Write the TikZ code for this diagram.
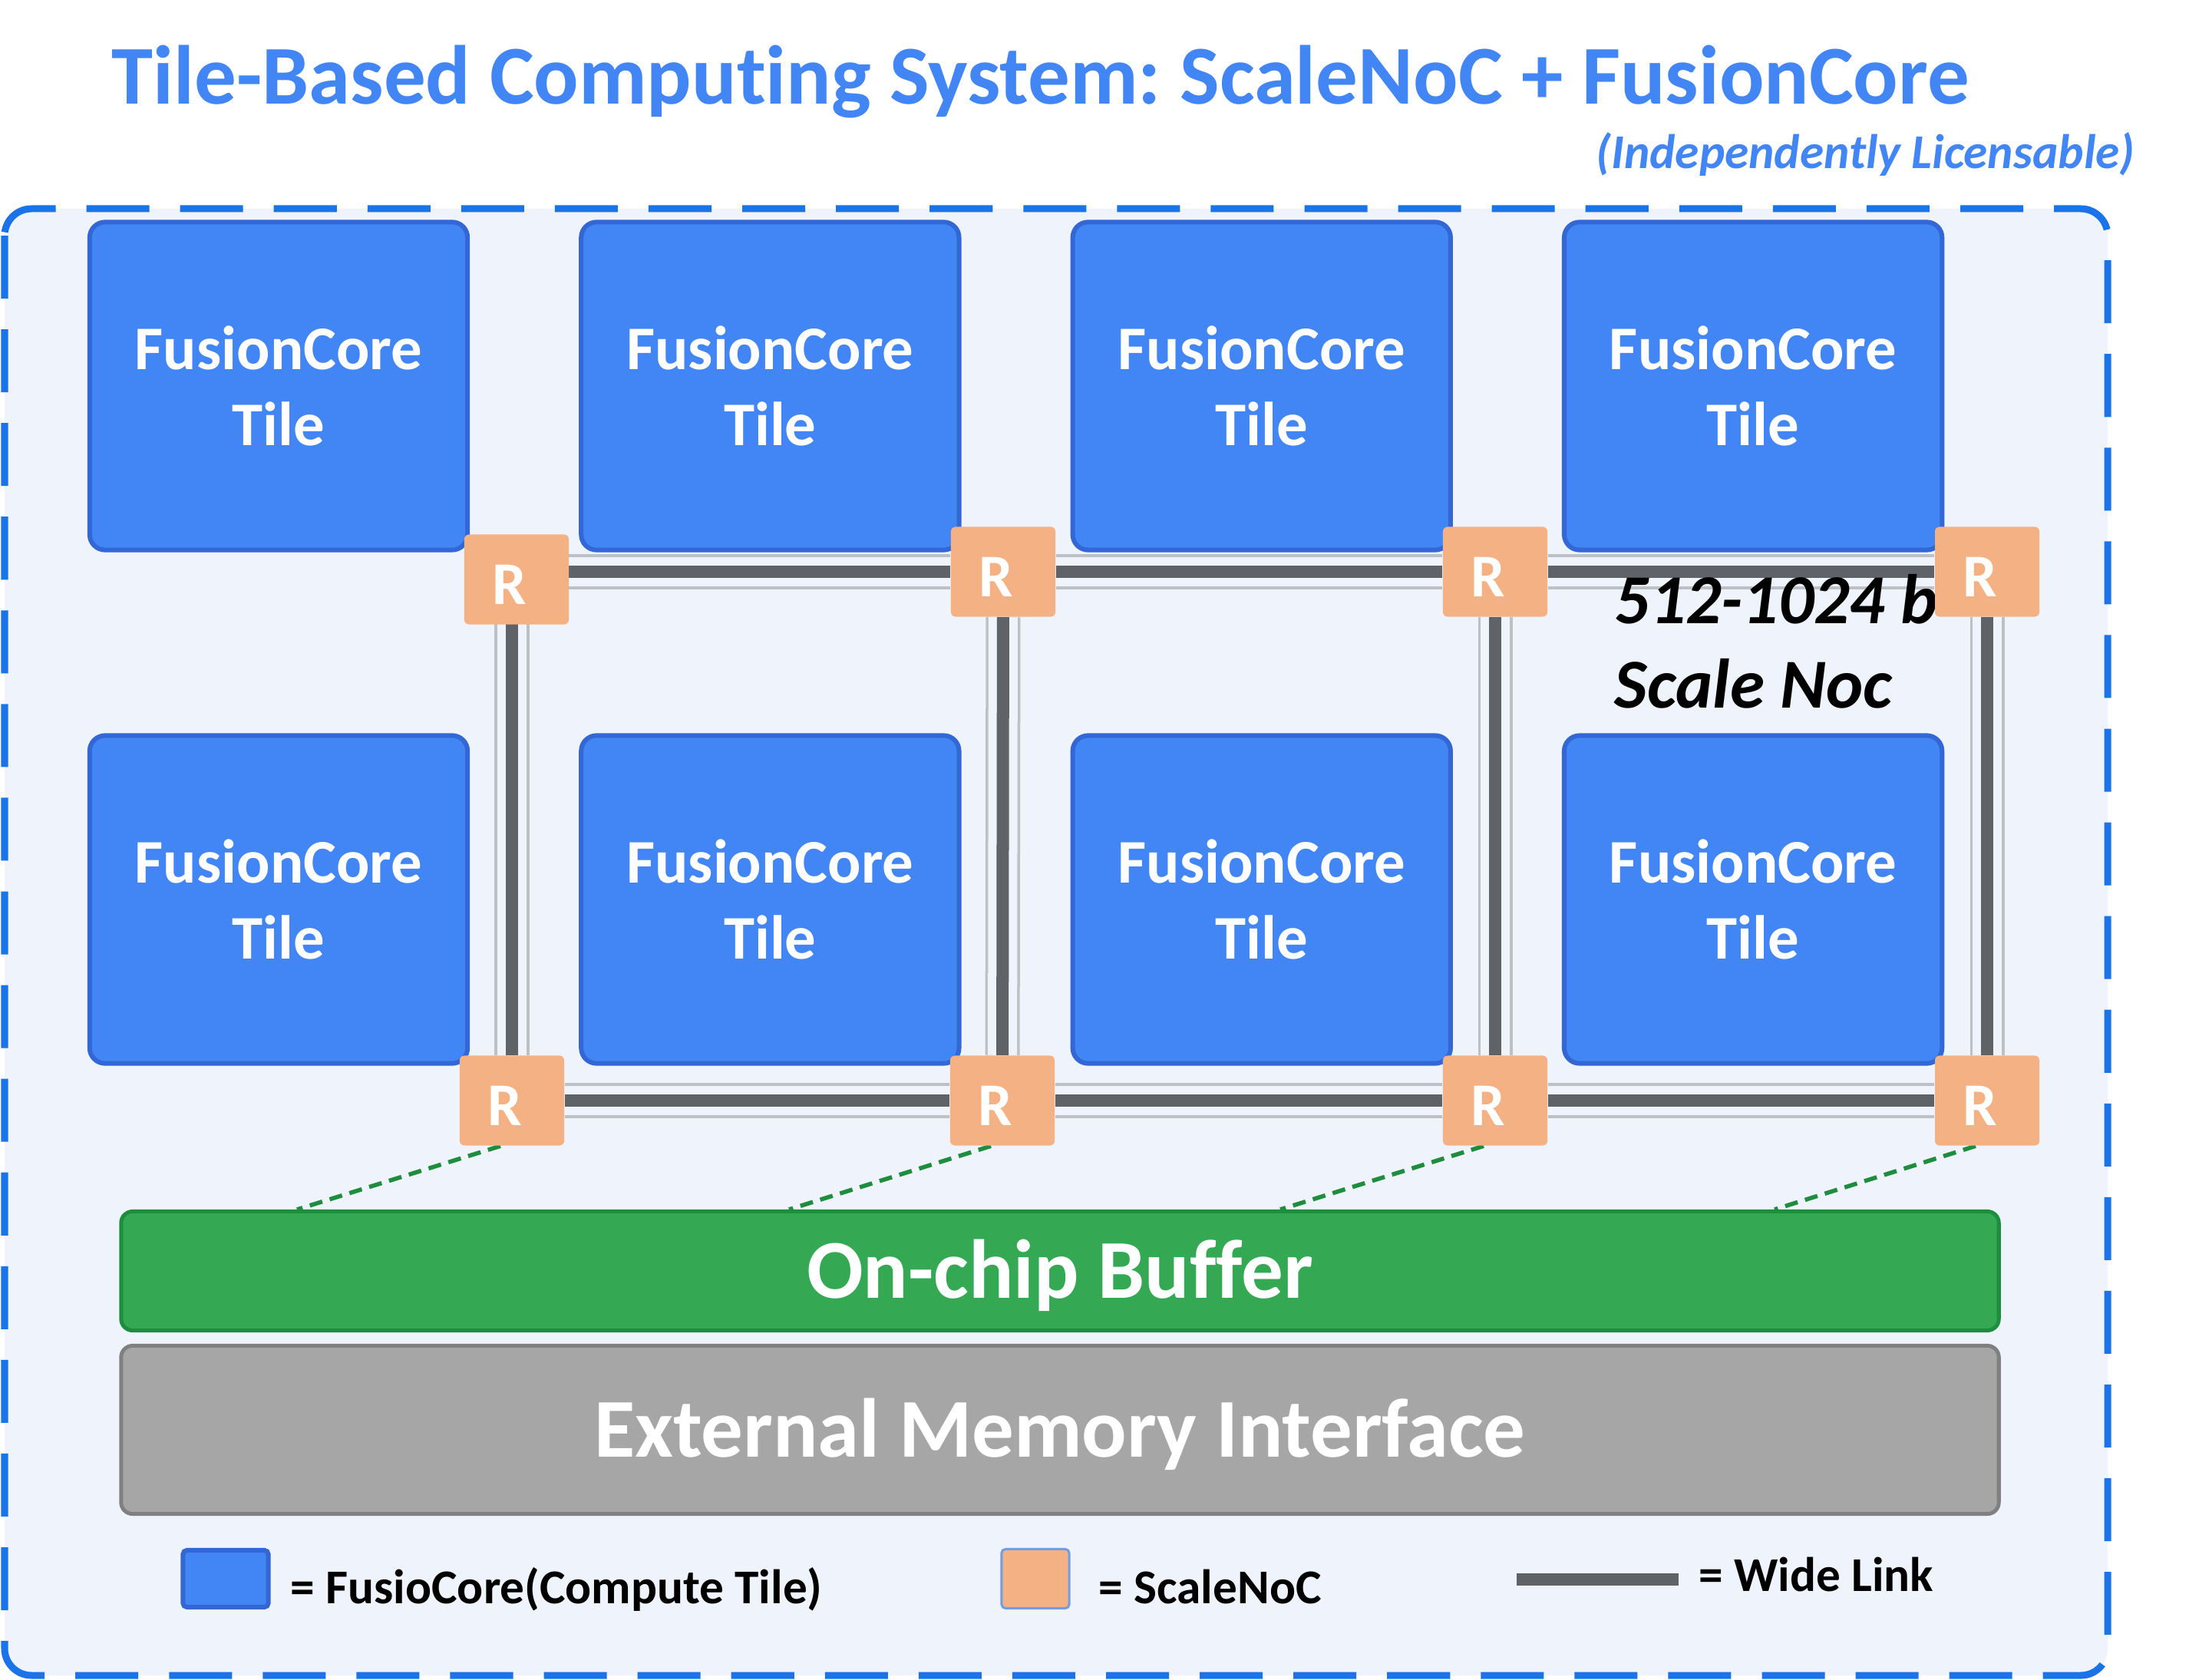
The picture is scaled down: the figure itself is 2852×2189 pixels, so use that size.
\documentclass[tikz,border=0pt]{standalone}
\usepackage{fontspec}
\setmainfont{Carlito}[Ligatures=NoCommon]
\usepackage{tikz}
\usetikzlibrary{positioning}
\usepackage{xcolor}
\definecolor{tileblue}{HTML}{4285F4}
\definecolor{tileedge}{HTML}{3367D6}
\definecolor{routerfill}{HTML}{F4B183}
\definecolor{linkdark}{HTML}{5F6368}
\definecolor{linklight}{HTML}{BDC1C6}
\definecolor{boxfill}{HTML}{EEF3FC}
\definecolor{boxedge}{HTML}{1A73E8}
\definecolor{bufgreen}{HTML}{34A853}
\definecolor{bufedge}{HTML}{1E8E3E}
\definecolor{memgray}{HTML}{A6A6A6}
\definecolor{memedge}{HTML}{808080}
\definecolor{legedge}{HTML}{6D9EEB}
\pgfdeclarelayer{frame}
\pgfdeclarelayer{links}
\pgfsetlayers{frame,links,main}
\frenchspacing

\begin{document}
\begin{tikzpicture}[
    x=0.01cm, y=-0.01cm,
    tile/.style={rectangle, rounded corners=0.2cm, draw=tileedge, line width=0.06cm, fill=tileblue, minimum width=4.92cm, minimum height=4.27cm, align=center, text=white, font=\bfseries\fontsize{23}{28}\selectfont},
    router/.style={rectangle, rounded corners=0.06cm, fill=routerfill, minimum width=1.36cm, minimum height=1.17cm, inner sep=0pt, text height=18.7pt, text depth=0pt, text=white, font=\bfseries\fontsize{22.5}{27}\selectfont},
    widelink/.style={draw=linkdark, line width=0.16cm, preaction={draw=linklight, line width=0.035cm, double=boxfill, double distance=0.38cm}},
    tap/.style={draw=bufedge, line width=0.055cm, dash pattern=on 0.17cm off 0.1cm},
    block/.style={rectangle, rounded corners=0.15cm, line width=0.05cm, minimum width=24.45cm, text height=20pt, text depth=0pt, text=white, font=\bfseries\fontsize{31}{37}\selectfont},
    legtext/.style={anchor=base west, inner sep=0pt, font=\bfseries\fontsize{18}{22}\selectfont}
]
\useasboundingbox (0,0) rectangle (2852,2189);

% Title
\node[anchor=base west, inner sep=0pt, text=tileblue, font=\bfseries\fontsize{31}{37}\selectfont] (title) at (145,136) {Tile-Based Computing System: ScaleNoC + FusionCore};
\node[anchor=base east, inner sep=0pt, text=tileblue, font=\bfseries\itshape\fontsize{18}{22}\selectfont] (subtitle) at (2782,220) {(Independently Licensable)};

% Chip frame
\begin{pgfonlayer}{frame}
\draw[boxedge, fill=boxfill, line width=0.09cm, dash pattern=on 0.82cm off 0.4cm, rounded corners=0.35cm] (6,272) rectangle (2746,2183);
\end{pgfonlayer}

% Buffer and memory
\node[block, fill=bufgreen, draw=bufedge, minimum height=1.55cm] (buf) at (1381,1656) {On-chip Buffer};
\node[block, fill=memgray, draw=memedge, minimum height=2.19cm] (mem) at (1381,1863) {External Memory Interface};

% FusionCore tiles
\node[tile] (t11) at (363,503) {FusionCore\\Tile};
\node[tile, right=1.42cm of t11] (t12) {FusionCore\\Tile};
\node[tile, right=1.42cm of t12] (t13) {FusionCore\\Tile};
\node[tile, right=1.42cm of t13] (t14) {FusionCore\\Tile};
\node[tile] (t21) at (363,1172) {FusionCore\\Tile};
\node[tile, right=1.42cm of t21] (t22) {FusionCore\\Tile};
\node[tile, right=1.42cm of t22] (t23) {FusionCore\\Tile};
\node[tile, right=1.42cm of t23] (t24) {FusionCore\\Tile};

% Link width note
\node[anchor=base west, inner sep=0pt, align=left, font=\bfseries\itshape\fontsize{26}{31.3}\selectfont] (note) at (2103,923) {512-1024 b\\Scale Noc};

% Routers
\node[router] (r11) at (673,755) {R\kern5.5pt};
\node[router] (r12) at (1307,745) {R\kern5.5pt};
\node[router] (r13) at (1948,745) {R\kern5.5pt};
\node[router] (r14) at (2589,745) {R\kern5.5pt};
\node[router] (r21) at (667,1434) {R\kern5.5pt};
\node[router] (r22) at (1306,1434) {R\kern5.5pt};
\node[router] (r23) at (1948,1434) {R\kern5.5pt};
\node[router] (r24) at (2589,1434) {R\kern5.5pt};

% Wide links
\begin{pgfonlayer}{links}
\draw[widelink] (r11 |- r12) -- (r12);
\draw[widelink] (r12) -- (r13);
\draw[widelink] (r13) -- (r14);
\draw[widelink] (r21) -- (r22);
\draw[widelink] (r22) -- (r23);
\draw[widelink] (r23) -- (r24);
\draw[widelink] (r11 -| r21) -- (r21);
\draw[widelink] (r12) -- (r22);
\draw[widelink] (r13) -- (r23);
\draw[widelink] (r14) -- (r24);

% Router to buffer taps
\path (r21 |- buf.north) ++(-280,0) coordinate (b1);
\path (r22 |- buf.north) ++(-278,0) coordinate (b2);
\path (r23 |- buf.north) ++(-280,0) coordinate (b3);
\path (r24 |- buf.north) ++(-277,0) coordinate (b4);
\draw[tap] ([xshift=-0.15cm]r21.south) -- (b1);
\draw[tap] ([xshift=-0.15cm]r22.south) -- (b2);
\draw[tap] ([xshift=-0.15cm]r23.south) -- (b3);
\draw[tap] ([xshift=-0.15cm]r24.south) -- (b4);
\end{pgfonlayer}

% Legend
\node[tile, minimum width=1.11cm, minimum height=0.74cm, rounded corners=0.05cm] (legtile) at (294,2057) {};
\node[legtext] (legtiletext) at (378,2089) {= FusioCore(Compute Tile)};
\node[rectangle, fill=routerfill, draw=legedge, line width=0.03cm, rounded corners=0.05cm, minimum width=0.88cm, minimum height=0.77cm] (legnoc) at (1349,2057) {};
\node[legtext] (legnoctext) at (1431,2089) {= ScaleNoC};
\coordinate (legs) at (1976,2058);
\coordinate (lege) at (2187,2058);
\draw[linkdark, line width=0.16cm] (legs) -- (lege);
\node[legtext] (leglinetext) at (2213,2073) {= Wide Link};

\end{tikzpicture}
\end{document}
